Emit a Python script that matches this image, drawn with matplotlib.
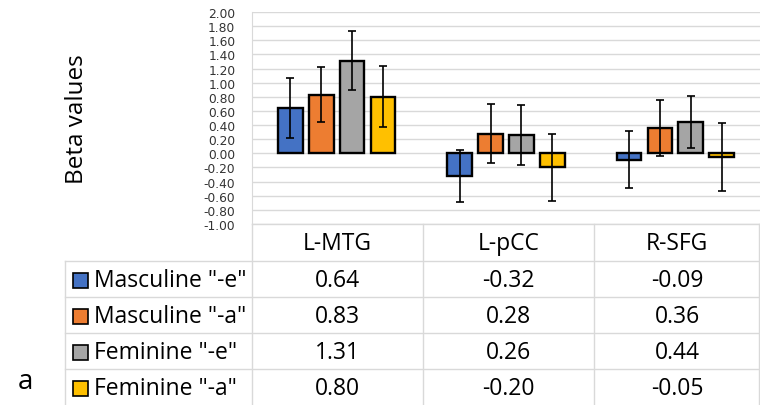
import numpy as np
import matplotlib
matplotlib.use("Agg")
import matplotlib.pyplot as plt
from matplotlib.patches import Rectangle
from matplotlib.lines import Line2D

plt.rcParams['font.family'] = ['Open Sans', 'DejaVu Sans']

regions = ['L-MTG', 'L-pCC', 'R-SFG']
series = ['Masculine "-e"', 'Masculine "-a"', 'Feminine "-e"', 'Feminine "-a"']
colors = ['#4472C4', '#ED7D31', '#A5A5A5', '#FFC000']

masc_e = [0.64, -0.32, -0.09]
masc_a = [0.83, 0.28, 0.36]
fem_e = [1.31, 0.26, 0.44]
fem_a = [0.80, -0.20, -0.05]

# error bar half-widths
err_masc_e = [0.43, 0.37, 0.40]
err_masc_a = [0.39, 0.42, 0.40]
err_fem_e = [0.42, 0.42, 0.37]
err_fem_a = [0.43, 0.47, 0.48]

values = [masc_e, masc_a, fem_e, fem_a]
errors = [err_masc_e, err_masc_a, err_fem_e, err_fem_a]

W, H = 760, 406
fig = plt.figure(figsize=(W / 100, H / 100), dpi=100)

# plot area in pixel coordinates
left, right, top, bottom = 252, 762, 13, 225
ax = fig.add_axes([left / W, 1 - bottom / H, (right - left) / W, (bottom - top) / H])

x = np.arange(len(regions))
width = 0.146
step = 0.182
for i, (vals, errs) in enumerate(zip(values, errors)):
    pos = x + (i - 1.5) * step
    ax.bar(pos, vals, width, color=colors[i], edgecolor='black', linewidth=1.7, zorder=3)
    ax.errorbar(pos, vals, yerr=errs, fmt='none', ecolor='black', elinewidth=1.2,
                capsize=3, capthick=1.2, zorder=4)

ax.set_xlim(-0.5, 2.5 + 2 / 171)
ax.set_ylim(-1.0, 2.0)
ax.set_yticks(np.arange(-1.0, 2.01, 0.2))
ax.yaxis.set_major_formatter(plt.FuncFormatter(lambda v, p: f'{v + 0.0:.2f}' if abs(v) > 1e-9 else '0.00'))
ax.tick_params(axis='y', length=0, pad=12, labelcolor='#333333')
for lab in ax.get_yticklabels():
    lab.set_fontfamily('DejaVu Sans')
    lab.set_fontsize(8.8)
ax.set_xticks([])
ax.grid(axis='y', color='#D9D9D9', linewidth=1, zorder=0)
for s in ['top', 'right', 'bottom']:
    ax.spines[s].set_visible(False)
ax.spines['left'].set_color('#D9D9D9')

fig.text(77 / W, 1 - 119 / H, 'Beta values', rotation=90, ha='center', va='center',
         fontsize=17.5)

# data table below the plot
tab = fig.add_axes([0, 0, 1, 1])
tab.set_xlim(0, W)
tab.set_ylim(H, 0)
tab.axis('off')
tab.patch.set_alpha(0)

grid_c = '#D9D9D9'
col_x = [252, 423, 594, 760]
row_y = [225, 262, 298, 334, 370, 406]
tab.add_line(Line2D([252, 760], [225, 225], color=grid_c, lw=1))
for yy in row_y[1:-1]:
    tab.add_line(Line2D([65, 760], [yy, yy], color=grid_c, lw=1))
tab.add_line(Line2D([65, 65], [262, 406], color=grid_c, lw=1))
for xx in col_x[:-1]:
    tab.add_line(Line2D([xx, xx], [225, 406], color=grid_c, lw=1))
tab.add_line(Line2D([759, 759], [225, 406], color=grid_c, lw=1))

fs = 16.5
for j, name in enumerate(regions):
    cx = (col_x[j] + col_x[j + 1]) / 2
    tab.text(cx, (row_y[0] + row_y[1]) / 2 + 1, name, ha='center', va='center', fontsize=fs)

for i, name in enumerate(series):
    cy = (row_y[i + 1] + row_y[i + 2]) / 2 + 1
    tab.add_patch(Rectangle((73, cy - 7.5), 15, 15, facecolor=colors[i],
                            edgecolor='black', lw=1.2))
    tab.text(94, cy, name, ha='left', va='center', fontsize=fs)
    for j in range(len(regions)):
        cx = (col_x[j] + col_x[j + 1]) / 2
        tab.text(cx, cy, f'{values[i][j]:.2f}', ha='center', va='center', fontsize=fs)

tab.text(18, 382, 'a', ha='left', va='center', fontsize=20)

fig.savefig('out.png', dpi=100)
